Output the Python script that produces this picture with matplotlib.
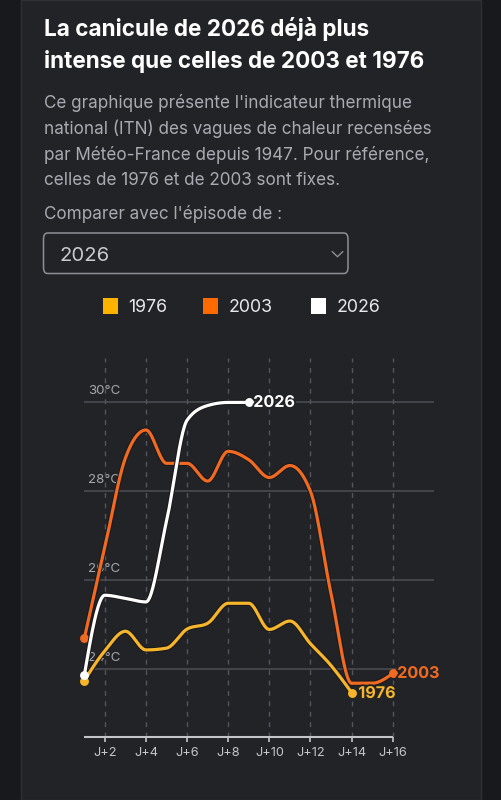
import numpy as np
import matplotlib.pyplot as plt
import matplotlib.patheffects as pe
from matplotlib.patches import Rectangle, FancyBboxPatch

# ITN (°C) par jour d'épisode
days_1976 = list(range(1, 15))
itn_1976 = [23.74, 24.41, 24.85, 24.43, 24.47, 24.90, 25.03, 25.48, 25.48,
            24.89, 25.08, 24.57, 24.08, 23.47]
days_2003 = list(range(1, 17))
itn_2003 = [24.69, 26.74, 28.75, 29.38, 28.63, 28.63, 28.23, 28.90, 28.71,
            28.31, 28.58, 28.00, 25.70, 23.68, 23.68, 23.90]
days_2026 = list(range(1, 10))
itn_2026 = [23.86, 25.66, 25.59, 25.51, 27.33, 29.60, 29.93, 30.00, 30.00]

series = [("1976", days_1976, itn_1976, "#f7b52b", "#ffb300"),
          ("2003", days_2003, itn_2003, "#f06a22", "#ff6a00"),
          ("2026", days_2026, itn_2026, "#ffffff", "#ffffff")]

x_ticks = [2, 4, 6, 8, 10, 12, 14, 16]
y_ticks = [24, 26, 28, 30]

title_lines = ["La canicule de 2026 déjà plus",
               "intense que celles de 2003 et 1976"]
subtitle_lines = ["Ce graphique présente l'indicateur thermique",
                  "national (ITN) des vagues de chaleur recensées",
                  "par Météo-France depuis 1947. Pour référence,",
                  "celles de 1976 et de 2003 sont fixes."]

BG_OUT = "#18191c"
BG_CARD = "#222327"
FONT = "Inter"
W, H = 502, 800


def monotone_x(x, y, n=24):
    # same smoothing as d3.curveMonotoneX, only used for drawing
    x = np.asarray(x, float)
    y = np.asarray(y, float)
    h = np.diff(x)
    s = np.diff(y) / h
    t = np.zeros_like(y)
    for i in range(1, len(y) - 1):
        p = (s[i - 1] * h[i] + s[i] * h[i - 1]) / (h[i - 1] + h[i])
        t[i] = (np.sign(s[i - 1]) + np.sign(s[i])) * min(abs(s[i - 1]), abs(s[i]), 0.5 * abs(p))
    t[0] = (3 * s[0] - t[1]) / 2
    t[-1] = (3 * s[-1] - t[-2]) / 2
    xs, ys = [], []
    for i in range(len(h)):
        u = np.linspace(0, 1, n, endpoint=(i == len(h) - 1))
        h00 = 2 * u**3 - 3 * u**2 + 1
        h10 = u**3 - 2 * u**2 + u
        h01 = -2 * u**3 + 3 * u**2
        h11 = u**3 - u**2
        xs.append(x[i] + u * h[i])
        ys.append(h00 * y[i] + h10 * h[i] * t[i] + h01 * y[i + 1] + h11 * h[i] * t[i + 1])
    return np.concatenate(xs), np.concatenate(ys)


def fx(px):
    return px / W


def fy(py):
    return 1 - py / H


fig = plt.figure(figsize=(W / 100, H / 100), dpi=100)
fig.patch.set_facecolor(BG_OUT)
fig.patches.append(Rectangle((fx(21), 0), fx(460), 1, transform=fig.transFigure,
                             facecolor=BG_CARD, edgecolor="#2f3035", linewidth=1,
                             zorder=-10))

# titre + texte
for i, line in enumerate(title_lines):
    fig.text(fx(44), fy(36 + 32 * i), line, color="white", fontsize=16.2,
             fontweight="bold", family=FONT, va="baseline")
for i, line in enumerate(subtitle_lines):
    fig.text(fx(44), fy(108.5 + 25.6 * i), line, color="#a9abb1", fontsize=12.3,
             family=FONT, va="baseline")
fig.text(fx(44), fy(219), "Comparer avec l'épisode de :", color="#a9abb1",
         fontsize=12.3, family=FONT, va="baseline")

# menu déroulant
fig.patches.append(FancyBboxPatch((fx(43.5), fy(273.5)), fx(304.5), 40.5 / H,
                                  boxstyle="round,pad=0,rounding_size=0.008",
                                  transform=fig.transFigure, facecolor="none",
                                  edgecolor="#8e8f94", linewidth=1.1))
fig.text(fx(60), fy(261), "2026", color="#c9cacd", fontsize=14.6, family=FONT,
         va="baseline")
fig.lines.append(plt.Line2D([fx(332.3), fx(337.5), fx(342.7)],
                            [fy(251.7), fy(256.7), fy(251.7)],
                            transform=fig.transFigure, color="#8e8f94", linewidth=1))

# légende
for (name, _, _, _, sq), px in zip(series, [102.5, 203, 311]):
    fig.patches.append(Rectangle((fx(px), fy(313.5)), fx(15), 15.5 / H,
                                 transform=fig.transFigure, facecolor=sq,
                                 edgecolor="none"))
    fig.text(fx(px + 25.5), fy(312.5), name, color="#e8e8ea", fontsize=12.8,
             family=FONT, va="baseline")

# graphique
ax = fig.add_axes([fx(84.3), fy(737), fx(433.8 - 84.3), (737 - 358) / H])
ax.set_facecolor("none")
x_lo, x_hi = 1, 18
y_lo, y_hi = 22.47, 31.0
ax.set_xlim(x_lo, x_hi)
ax.set_ylim(y_lo, y_hi)
for s in ax.spines.values():
    s.set_visible(False)
ax.set_xticks([])
ax.set_yticks([])

for t in y_ticks:
    ax.axhline(t, color="#4a4b50", linewidth=1.2, zorder=1)
    ax.text(1.2, t + 0.25, f"{t}°C", color="#a7a8ac", fontsize=9.6,
            family=FONT, va="center", ha="left", zorder=1)
ax.vlines(x_ticks, y_lo, y_hi, colors="#55565b", linewidth=1,
          linestyles=(0, (3.5, 4)), zorder=1)
ax.plot([1, 16], [y_lo, y_lo], color="#c4c5c8", linewidth=1.5,
        clip_on=False, zorder=2, solid_capstyle="butt")
ax.vlines(x_ticks, y_lo - 0.12, y_lo, colors="#c4c5c8", linewidth=1.2,
          clip_on=False, zorder=2)
for d in x_ticks:
    ax.text(d, y_lo - 0.35, f"J+{d}", color="#c4c5c8", fontsize=9.2,
            family=FONT, ha="center", va="center")

outline = [pe.Stroke(linewidth=3.8, foreground="#1a1a1c"), pe.Normal()]
label_pos = {"1976": (0.33, -0.02), "2003": (0.22, 0.0), "2026": (0.22, 0.0)}
for k, (name, xd, yd, col, _) in enumerate(series):
    sx, sy = monotone_x(xd, yd)
    z = 3 + k
    ax.plot(sx, sy, color=col, linewidth=2.3, path_effects=outline,
            solid_capstyle="round", zorder=z, clip_on=False)
    ax.plot([xd[0], xd[-1]], [yd[0], yd[-1]], "o", color=col, markersize=6.4,
            markeredgewidth=0, zorder=z + 0.5, clip_on=False)
    dx, dy = label_pos[name]
    ax.text(xd[-1] + dx, yd[-1] + dy, name, color=col, fontsize=11.6,
            fontweight="bold", family=FONT, va="center", ha="left", zorder=8,
            path_effects=[pe.withStroke(linewidth=2.5, foreground=BG_CARD)])

fig.savefig("out.png", dpi=100, facecolor=fig.get_facecolor())
